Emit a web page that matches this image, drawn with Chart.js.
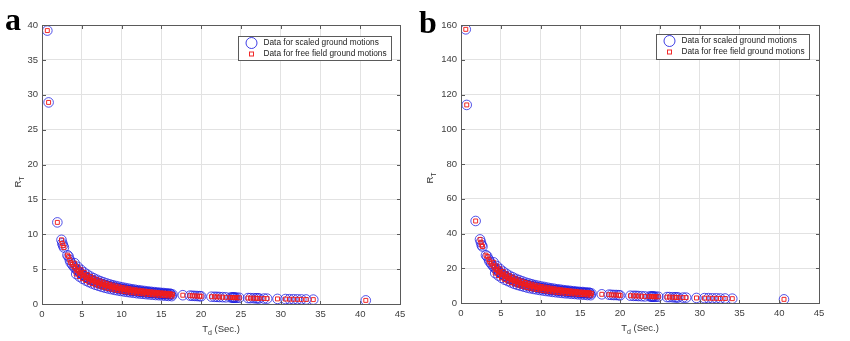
<!DOCTYPE html>
<html><head><meta charset="utf-8">
<script src="https://cdn.jsdelivr.net/npm/chart.js@4/dist/chart.umd.min.js"></script>
<style>
html,body{margin:0;padding:0;background:#fff;}
#wrap{position:relative;width:850px;height:341px;overflow:hidden;font-family:"Liberation Sans",Arial,sans-serif;}
.panel{position:absolute;top:0;width:425px;height:341px;}
.letter{position:absolute;font-family:"Liberation Serif","Times New Roman",serif;font-weight:bold;font-size:32px;line-height:32px;color:#000;}
.tt{position:absolute;font-size:9.5px;color:#333;white-space:nowrap;line-height:10px;}
.tt sub{font-size:7px;vertical-align:-3px;line-height:0;}
</style></head>
<body>
<div id="wrap">
  <div class="panel" style="left:0"><canvas id="ca" width="425" height="341"></canvas></div>
  <div class="panel" style="left:425px"><canvas id="cb" width="425" height="341"></canvas></div>
  <div class="letter" style="left:5px;top:3px">a</div>
  <div class="letter" style="left:419px;top:6px">b</div>
  <div class="tt" style="left:221px;top:329px;transform:translate(-50%,-50%)">T<sub>d</sub> (Sec.)</div>
  <div class="tt" style="left:18px;top:182px;transform:translate(-50%,-50%) rotate(-90deg)">R<sub>T</sub></div>
  <div class="tt" style="left:640px;top:328px;transform:translate(-50%,-50%)">T<sub>d</sub> (Sec.)</div>
  <div class="tt" style="left:430px;top:178px;transform:translate(-50%,-50%) rotate(-90deg)">R<sub>T</sub></div>
</div>
<script>
// ---------------- data ----------------
const seriesNames = ['Data for scaled ground motions', 'Data for free field ground motions'];

// Panel a : T_d (s) and R_T — main trace
const tdA = [0.67,0.83,1.93,2.45,2.55,2.65,2.75,3.2,3.35,3.5,
  3.6,3.8,4.0,4.2,4.4,4.6,4.8,5.0,5.2,5.4,5.6,5.8,6.0,6.2,6.4,6.6,6.8,7.0,7.2,7.4,7.6,7.8,
  8.0,8.2,8.4,8.6,8.8,9.0,9.2,9.4,9.6,9.8,10.0,10.2,10.4,10.6,10.8,11.0,11.2,11.4,11.6,11.8,
  12.0,12.2,12.4,12.6,12.8,13.0,13.2,13.4,13.6,13.8,14.0,14.2,14.4,14.6,14.8,15.0,15.2,15.4,15.6,15.8,
  16.0,16.2,16.4,
  17.7,18.6,18.9,19.2,19.5,19.8,20.0,
  21.3,21.7,22.0,22.3,22.7,23.1,
  23.7,23.9,24.0,24.1,24.2,24.3,24.5,24.8,
  25.9,26.2,26.6,26.9,27.1,27.3,27.9,28.3,
  29.6,30.6,31.1,31.6,32.1,32.6,33.2,34.1,
  40.7];
const rtA = [39.2,28.9,11.7,9.2,8.7,8.4,8.1,7.0,6.8,6.3,
  5.95,5.65,5.35,5.10,4.88,4.67,4.48,4.30,4.14,3.98,3.84,3.71,3.58,3.47,3.36,3.26,3.16,3.07,2.99,2.91,2.83,2.76,
  2.69,2.62,2.56,2.50,2.45,2.39,2.34,2.29,2.25,2.20,2.16,2.12,2.08,2.04,2.00,1.97,1.94,1.91,1.88,1.85,
  1.82,1.79,1.76,1.74,1.71,1.69,1.67,1.65,1.62,1.60,1.58,1.56,1.54,1.52,1.50,1.48,1.47,1.45,1.43,1.42,
  1.40,1.38,1.37,
  1.26,1.20,1.18,1.16,1.14,1.12,1.11,
  1.05,1.03,1.02,1.00,0.98,0.96,
  0.94,0.93,0.93,0.92,0.92,0.91,0.90,0.89,
  0.85,0.84,0.83,0.82,0.81,0.80,0.78,0.77,
  0.73,0.71,0.69,0.68,0.67,0.66,0.65,0.63,
  0.52];
// Panel a — upper and lower edges of the dense band
const tdAHi = [4.1,4.5,4.9,5.3,5.7,6.1,6.5,6.9,7.3,7.7,8.1,8.5,8.9,9.3,9.7,10.1,10.5,10.9,11.3,11.7,12.1,12.5,12.9,13.3,13.7,14.1,14.5,14.9,15.3,15.7,16.1];
const rtAHi = [5.85,5.33,4.90,4.53,4.21,3.93,3.69,3.48,3.29,3.12,2.96,2.82,2.70,2.58,2.47,2.38,2.29,2.20,2.12,2.05,1.98,1.92,1.86,1.80,1.75,1.70,1.66,1.61,1.57,1.53,1.49];
const tdALo = [4.3,4.7,5.1,5.5,5.9,6.3,6.7,7.1,7.5,7.9,8.3,8.7,9.1,9.5,9.9,10.3,10.7,11.1,11.5,11.9,12.3,12.7,13.1,13.5,13.9,14.3,14.7,15.1,15.5,15.9,16.3];
const rtALo = [4.30,3.94,3.63,3.36,3.14,2.94,2.76,2.61,2.47,2.34,2.23,2.13,2.03,1.95,1.87,1.80,1.73,1.67,1.61,1.55,1.50,1.46,1.41,1.37,1.33,1.29,1.26,1.23,1.19,1.16,1.13];

// Panel b : T_d (s) and R_T — main trace
const tdB = [0.6,0.72,1.84,2.39,2.5,2.6,2.7,3.14,3.3,3.5,
  3.6,3.8,4.0,4.2,4.4,4.6,4.8,5.0,5.2,5.4,5.6,5.8,6.0,6.2,6.4,6.6,6.8,7.0,7.2,7.4,7.6,7.8,
  8.0,8.2,8.4,8.6,8.8,9.0,9.2,9.4,9.6,9.8,10.0,10.2,10.4,10.6,10.8,11.0,11.2,11.4,11.6,11.8,
  12.0,12.2,12.4,12.6,12.8,13.0,13.2,13.4,13.6,13.8,14.0,14.2,14.4,14.6,14.8,15.0,15.2,15.4,15.6,15.8,
  16.0,16.2,16.4,
  17.7,18.6,18.9,19.2,19.5,19.8,20.0,
  21.3,21.7,22.0,22.3,22.7,23.1,
  23.7,23.9,24.0,24.1,24.2,24.3,24.5,24.8,
  25.9,26.2,26.6,26.9,27.1,27.3,27.9,28.3,
  29.6,30.6,31.1,31.6,32.1,32.6,33.2,34.1,
  40.6];
const rtB = [157.5,114,47.2,36.6,35.0,33.3,32.5,27.5,26.8,25.0,
  23.8,22.6,21.4,20.4,19.5,18.7,17.9,17.2,16.6,15.9,15.4,14.8,14.3,13.9,13.4,13.0,12.6,12.3,12.0,11.6,11.3,11.0,
  10.8,10.5,10.2,10.0,9.8,9.6,9.4,9.2,9.0,8.8,8.6,8.5,8.3,8.2,8.0,7.9,7.8,7.6,7.5,7.4,
  7.3,7.2,7.0,7.0,6.8,6.8,6.7,6.6,6.5,6.4,6.3,6.2,6.2,6.1,6.0,5.9,5.9,5.8,5.7,5.7,
  5.6,5.5,5.5,
  5.0,4.8,4.7,4.6,4.6,4.5,4.4,
  4.2,4.1,4.1,4.0,3.9,3.8,
  3.8,3.7,3.7,3.7,3.7,3.6,3.6,3.6,
  3.4,3.4,3.3,3.3,3.2,3.2,3.1,3.1,
  2.9,2.8,2.8,2.7,2.7,2.6,2.6,2.5,
  2.1];
// Panel b — upper and lower edges of the dense band
const tdBHi = [4.1,4.5,4.9,5.3,5.7,6.1,6.5,6.9,7.3,7.7,8.1,8.5,8.9,9.3,9.7,10.1,10.5,10.9,11.3,11.7,12.1,12.5,12.9,13.3,13.7,14.1,14.5,14.9,15.3,15.7,16.1];
const rtBHi = [23.4,21.3,19.6,18.1,16.8,15.7,14.8,13.9,13.2,12.5,11.8,11.3,10.8,10.3,9.9,9.5,9.2,8.8,8.5,8.2,7.9,7.7,7.4,7.2,7.0,6.8,6.6,6.4,6.3,6.1,6.0];
const tdBLo = [4.3,4.7,5.1,5.5,5.9,6.3,6.7,7.1,7.5,7.9,8.3,8.7,9.1,9.5,9.9,10.3,10.7,11.1,11.5,11.9,12.3,12.7,13.1,13.5,13.9,14.3,14.7,15.1,15.5,15.9,16.3];
const rtBLo = [17.2,15.8,14.5,13.4,12.6,11.8,11.0,10.4,9.9,9.4,8.9,8.5,8.1,7.8,7.5,7.2,6.9,6.7,6.4,6.2,6.0,5.8,5.6,5.5,5.3,5.2,5.0,4.9,4.8,4.6,4.5];

// ---------------- plugins ----------------
const frame = {
  id: 'frame',
  afterDatasetsDraw(chart) {
    const {ctx, chartArea: a, scales: {x, y}} = chart;
    ctx.save();
    ctx.strokeStyle = '#5a5a5a';
    ctx.lineWidth = 1;
    const L = Math.round(a.left) + 0.5, R = Math.round(a.right) + 0.5,
          T = Math.round(a.top) + 0.5, B = Math.round(a.bottom) + 0.5;
    ctx.strokeRect(L, T, R - L, B - T);
    ctx.beginPath();
    x.ticks.forEach(t => {
      const p = Math.round(x.getPixelForValue(t.value)) + 0.5;
      ctx.moveTo(p, B); ctx.lineTo(p, B - 3.5);
      ctx.moveTo(p, T); ctx.lineTo(p, T + 3.5);
    });
    y.ticks.forEach(t => {
      const p = Math.round(y.getPixelForValue(t.value)) + 0.5;
      ctx.moveTo(L, p); ctx.lineTo(L + 3.5, p);
      ctx.moveTo(R, p); ctx.lineTo(R - 3.5, p);
    });
    ctx.stroke();
    ctx.restore();
  }
};

const boxLegend = {
  id: 'boxLegend',
  afterDraw(chart, args, o) {
    const {ctx, chartArea: a} = chart;
    const ds = chart.data.datasets;
    const x0 = Math.round(a.right - o.right - o.w) + 0.5;
    const y0 = Math.round(a.top + o.top) + 0.5;
    ctx.save();
    ctx.fillStyle = '#fff';
    ctx.fillRect(x0, y0, o.w, o.h);
    ctx.strokeStyle = '#5a5a5a';
    ctx.lineWidth = 1;
    ctx.strokeRect(x0, y0, o.w, o.h);
    ctx.beginPath();
    ctx.arc(x0 + 13, y0 + 6.5, 5.5, 0, Math.PI * 2);
    ctx.strokeStyle = ds[0].borderColor;
    ctx.stroke();
    ctx.strokeStyle = ds[1].borderColor;
    ctx.strokeRect(x0 + 11, y0 + 15.5, 4, 4);
    ctx.fillStyle = '#222';
    ctx.font = '8.3px "Liberation Sans", Arial, sans-serif';
    ctx.textBaseline = 'middle';
    ctx.fillText(ds[0].label, x0 + 25, y0 + 6.5);
    ctx.fillText(ds[1].label, x0 + 25, y0 + 17.5);
    ctx.restore();
  }
};

function toPts(tds, rts) {
  const out = [];
  tds.forEach((arr, k) => arr.forEach((t, i) => out.push({x: t, y: rts[k][i]})));
  return out;
}

function makeChart(id, pts, yMax, yStep, leftW, rightPad, bottomH, leg) {
  return new Chart(document.getElementById(id), {
    type: 'scatter',
    data: {
      datasets: [
        {label: seriesNames[0], data: pts, pointStyle: 'circle', pointRadius: 4.8,
         borderColor: 'rgba(30,30,225,0.85)', backgroundColor: 'rgba(0,0,0,0)', borderWidth: 0.9, order: 1},
        {label: seriesNames[1], data: pts, pointStyle: 'rect', pointRadius: 2.8,
         borderColor: 'rgba(240,30,30,0.95)', backgroundColor: 'rgba(0,0,0,0)', borderWidth: 1, order: 0}
      ]
    },
    options: {
      responsive: false,
      animation: false,
      events: [],
      layout: {padding: {left: 0, top: 25, right: rightPad, bottom: 0}, autoPadding: false},
      plugins: {legend: {display: false}, tooltip: {enabled: false}, boxLegend: leg},
      scales: {
        x: {
          type: 'linear', min: 0, max: 45,
          ticks: {stepSize: 5, padding: 5, color: '#404040', font: {family: '"Liberation Sans", Arial, sans-serif', size: 9.5}, maxRotation: 0},
          grid: {color: '#e2e2e2', drawTicks: false, tickLength: 0},
          border: {display: false},
          afterFit: s => { s.height = bottomH; }
        },
        y: {
          type: 'linear', min: 0, max: yMax,
          ticks: {stepSize: yStep, padding: 4, color: '#404040', font: {family: '"Liberation Sans", Arial, sans-serif', size: 9.5}},
          grid: {color: '#e2e2e2', drawTicks: false, tickLength: 0},
          border: {display: false},
          afterFit: s => { s.width = leftW; }
        }
      }
    },
    plugins: [frame, boxLegend]
  });
}

makeChart('ca', toPts([tdA, tdAHi, tdALo], [rtA, rtAHi, rtALo]), 40, 5, 42, 25, 37, {right: 9, top: 11, w: 153, h: 24});
makeChart('cb', toPts([tdB, tdBHi, tdBLo], [rtB, rtBHi, rtBLo]), 160, 20, 36, 31, 38, {right: 10, top: 9, w: 153, h: 25});
</script>
</body></html>
